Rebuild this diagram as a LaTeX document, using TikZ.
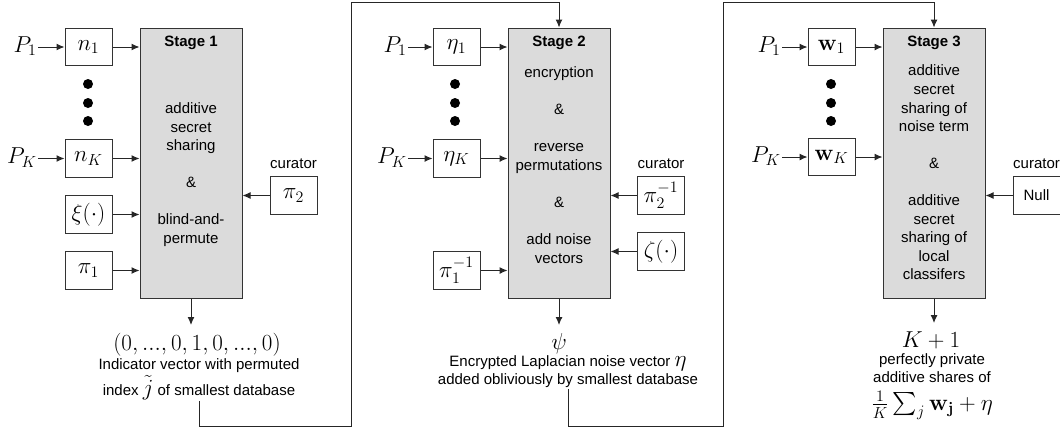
\documentclass[tikz,border=0pt]{standalone}
\usepackage{amsmath}
\usepackage{amssymb}
\usepackage{bm}
\usepackage[no-math]{fontspec}
\setmainfont{Liberation Sans}
\usetikzlibrary{arrows.meta}

\tikzset{
  stagebox/.style={draw=black!80, fill=black!14, line width=0.75pt, minimum width=76.5pt, minimum height=202.5pt, inner sep=0pt},
  inbox/.style={draw=black!80, line width=0.75pt, minimum width=35.25pt, minimum height=28pt, inner sep=0pt, font=\LARGE},
  flow/.style={draw=black!85, line width=0.75pt, -{Latex[length=6pt,width=5.25pt]}},
  txt/.style={font=\fontsize{11.25}{13.9}\selectfont, align=center, inner sep=0.75pt},
  mth/.style={font=\LARGE, inner sep=0.75pt},
  outm/.style={font=\LARGE, inner xsep=0.75pt, inner ysep=6pt, anchor=north},
  blob/.style={circle, fill=black, inner sep=0pt, minimum size=7.5pt}
}

\begin{document}
\begin{tikzpicture}[x=0.75pt,y=0.75pt,yscale=-1,xscale=1]
\useasboundingbox (0,0) rectangle (1060,430);

% Stage boxes
\node [stagebox] (stage1) at (191,163) {};
\node [stagebox] (stage2) at (559,163) {};
\node [stagebox] (stage3) at (934,163) {};

% Stage texts
\node [txt, font=\fontsize{11.25}{13.9}\selectfont\bfseries] (ttl1) at (191,43) {Stage 1};
\node [txt] (body1) at (191,174.5) {additive\\secret\\sharing\\[13.9pt]\&\\[13.9pt]blind-and-\\permute};
\node [txt, font=\fontsize{11.25}{13.9}\selectfont\bfseries] (ttl2) at (559,43) {Stage 2};
\node [txt] (body2) at (559,165) {encryption\\[13.9pt]\&\\[13.9pt]reverse\\permutations\\[13.9pt]\&\\[13.9pt]add noise\\vectors};
\node [txt, font=\fontsize{11.25}{13.9}\selectfont\bfseries] (ttl3) at (934,43) {Stage 3};
\node [txt] (body3) at (934,172.5) {additive\\secret\\sharing of\\noise term\\[13.9pt]\&\\[13.9pt]additive\\secret\\sharing of\\local\\classifers};

% Stage 1 inputs
\node [inbox] (n1) at (88.5,47) {$n_1$};
\node [inbox] (nK) at (88.5,158.5) {$n_K$};
\node [inbox] (xi) at (88.5,214.5) {$\xi(\cdot)$};
\node [inbox] (pia) at (88.5,270.5) {$\pi_1$};
\node [mth, anchor=east] (pa1) at (38,46) {$P_1$};
\node [mth, anchor=east] (paK) at (38,157.5) {$P_K$};
\node [blob] (da1) at (88,84) {};
\node [blob] (da2) at (88,103) {};
\node [blob] (da3) at (88,121) {};
\node [txt] (cur1) at (293.5,164) {curator};
\node [inbox] (pib) at (293.5,195.5) {$\pi_2$};

% Stage 2 inputs
\node [inbox] (eta1) at (456.5,47) {$\eta_1$};
\node [inbox] (etaK) at (456.5,158.5) {$\eta_K$};
\node [inbox] (piainv) at (456.5,270.5) {$\pi_1^{-1}$};
\node [mth, anchor=east] (pb1) at (408,46) {$P_1$};
\node [mth, anchor=east] (pbK) at (408,157.5) {$P_K$};
\node [blob] (db1) at (455,84) {};
\node [blob] (db2) at (455,103) {};
\node [blob] (db3) at (455,121) {};
\node [txt] (cur2) at (661,164) {curator};
\node [inbox] (pibinv) at (661,195.5) {$\pi_2^{-1}$};
\node [inbox] (zeta) at (661,251.5) {$\zeta(\cdot)$};

% Stage 3 inputs
\node [inbox] (w1) at (831.5,47) {$\mathbf{w}_1$};
\node [inbox] (wK) at (831.5,157) {$\mathbf{w}_K$};
\node [mth, anchor=east] (pc1) at (782,46) {$P_1$};
\node [mth, anchor=east] (pcK) at (782,156) {$P_K$};
\node [blob] (dc1) at (831,84) {};
\node [blob] (dc2) at (831,103) {};
\node [blob] (dc3) at (831,121) {};
\node [txt] (cur3) at (1036.5,164) {curator};
\node [inbox, font=\fontsize{11.25}{13.9}\selectfont] (null) at (1036.5,195.5) {Null};

% Outputs
\node [outm] (out1) at (197,325) {$(0,...,0,1,0,...,0)$};
\node [txt, anchor=north] (desc1) at (199,357) {Indicator vector with permuted\\[1pt]index {\LARGE$\tilde{j}$} of smallest database};
\node [outm] (out2) at (559,325) {$\psi$};
\node [txt, anchor=north] (desc2) at (568,354) {Encrypted Laplacian noise vector {\LARGE$\eta$}\\added obliviously by smallest database};
\node [outm] (out3) at (931,323) {$K+1$};
\node [txt, anchor=north] (desc3) at (932,352) {perfectly private\\additive shares of\\[5pt]{\LARGE$\frac{1}{K}\sum_j \mathbf{w}_\mathbf{j} + \eta$}};

% Corners of the feedback lines
\coordinate (c1) at (351,426);
\coordinate (c2) at (351,2);
\coordinate (c3) at (723,426);
\coordinate (c4) at (723,2);

%Straight Lines
\draw [flow] (pa1.east |- n1) -- (n1);
\draw [flow] (paK.east |- nK) -- (nK);
\draw [flow] (n1) -- (n1 -| stage1.west);
\draw [flow] (nK) -- (nK -| stage1.west);
\draw [flow] (xi) -- (xi -| stage1.west);
\draw [flow] (pia) -- (pia -| stage1.west);
\draw [flow] (pib) -- (pib -| stage1.east);
\draw [flow] (stage1.south) -- (stage1.south |- out1.north);

\draw [flow] (pb1.east |- eta1) -- (eta1);
\draw [flow] (pbK.east |- etaK) -- (etaK);
\draw [flow] (eta1) -- (eta1 -| stage2.west);
\draw [flow] (etaK) -- (etaK -| stage2.west);
\draw [flow] (piainv) -- (piainv -| stage2.west);
\draw [flow] (pibinv) -- (pibinv -| stage2.east);
\draw [flow] (zeta) -- (zeta -| stage2.east);
\draw [flow] (stage2.south) -- (stage2.south |- out2.north);

\draw [flow] (pc1.east |- w1) -- (w1);
\draw [flow] (pcK.east |- wK) -- (wK);
\draw [flow] (w1) -- (w1 -| stage3.west);
\draw [flow] (wK) -- (wK -| stage3.west);
\draw [flow] (null) -- (null -| stage3.east);
\draw [flow] (stage3.south) -- (stage3.south |- out3.north);

% Feedback lines
\draw [flow] (desc1.south) |- (c1) -- (c2) -| (stage2.north);
\draw [flow] (desc2.south) |- (c3) -- (c4) -| (stage3.north);

\end{tikzpicture}
\end{document}
